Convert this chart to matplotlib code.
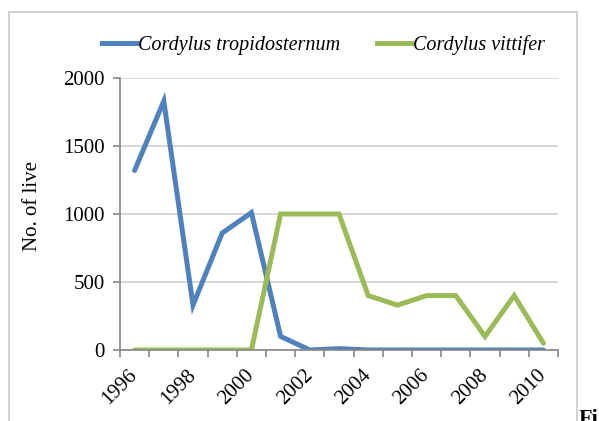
import matplotlib
matplotlib.use('Agg')
import matplotlib.pyplot as plt
from matplotlib.lines import Line2D

# Data
years = list(range(1996, 2011))
tropidosternum = [1320, 1830, 330, 860, 1010, 100, 0, 10, 0, 0, 0, 0, 0, 0, 0]
vittifer = [0, 0, 0, 0, 0, 1000, 1000, 1000, 400, 330, 400, 400, 100, 400, 50]
yTicks = [0, 500, 1000, 1500, 2000]

blueColor = '#4F81BD'
greenColor = '#9BBB59'
axisGray = '#868686'

plt.rcParams['font.family'] = ['Liberation Serif', 'DejaVu Serif']
fig = plt.figure(figsize=(5.99, 4.21), dpi=100)
ax = fig.add_axes([120/599, 1-350/421, 438/599, 272/421])

xPos = list(range(len(years)))
ax.plot(xPos, tropidosternum, color=blueColor, lw=3.6, solid_capstyle='round', solid_joinstyle='miter')
ax.plot(xPos, vittifer, color=greenColor, lw=3.6, solid_capstyle='round', solid_joinstyle='miter')

ax.set_xlim(-0.5, len(years)-0.5)
ax.set_ylim(0, 2000)
ax.set_yticks(yTicks)
ax.set_yticklabels([str(v) for v in yTicks], fontsize=15)
ax.yaxis.grid(True, color='#d0d0d0', lw=1.2)
ax.set_axisbelow(True)

# category axis: tick marks between categories, labels every second year
ax.set_xticks(xPos[::2])
ax.set_xticklabels([str(y) for y in years[::2]], fontsize=15, rotation=45,
                   ha='right', va='center', rotation_mode='anchor')
ax.tick_params(axis='x', which='major', length=0, pad=16)
ax.set_xticks([p - 0.5 for p in range(len(years)+1)], minor=True)
ax.tick_params(axis='x', which='minor', length=5, color=axisGray, width=1.2)
ax.tick_params(axis='y', length=5, color=axisGray, width=1.2, pad=6)

for s in ['top', 'right']:
    ax.spines[s].set_visible(False)
for s in ['left', 'bottom']:
    ax.spines[s].set_color(axisGray)
    ax.spines[s].set_linewidth(1.2)

ax.set_ylabel('No. of live', fontsize=15)
ax.yaxis.set_label_coords(-(120-42)/438, 0.53)

handles = [Line2D([], [], color=blueColor, lw=3.6),
           Line2D([], [], color=greenColor, lw=3.6)]
fig.legend(handles, ['Cordylus tropidosternum', 'Cordylus vittifer'],
           loc='center', bbox_to_anchor=(0.54, 1-45/421), ncol=2, frameon=False,
           prop={'style': 'italic', 'size': 14.5}, handlelength=1.7,
           handletextpad=0.1, columnspacing=1.8)

# chart border
border = plt.Rectangle((9/599, -0.1), 568/599, 1.1 - 12/421, transform=fig.transFigure,
                       fill=False, edgecolor='#c8c8c8', lw=1.2)
fig.patches.append(border)

fig.text(579/599, 1-424/421, 'Fi', fontsize=16, fontweight='bold', ha='left', va='baseline')

plt.savefig('out.png', dpi=100)
